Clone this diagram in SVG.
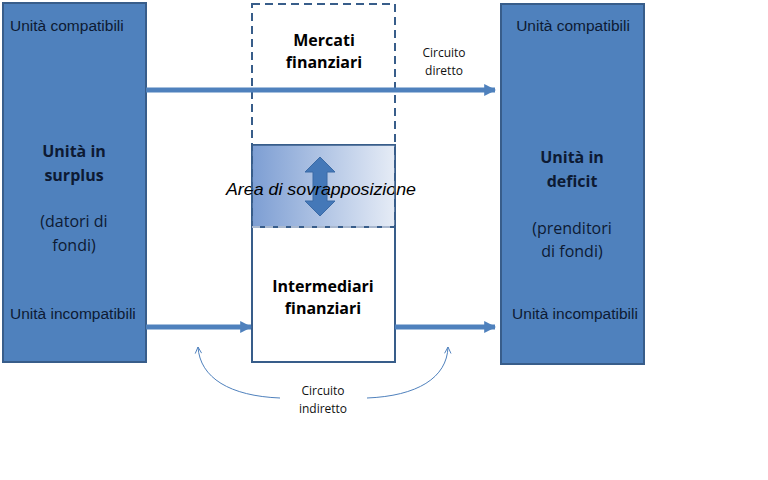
<svg xmlns="http://www.w3.org/2000/svg" width="768" height="480" viewBox="0 0 768 480">
<defs>
<linearGradient id="g" x1="0" y1="0" x2="1" y2="0">
<stop offset="0" stop-color="#7D9ED3"/>
<stop offset="1" stop-color="#E6ECF6"/>
</linearGradient>
<marker id="ah" viewBox="0 0 10 10" refX="9" refY="5" markerWidth="2.4" markerHeight="2.8" orient="auto" markerUnits="strokeWidth">
<path d="M0,0 L10,5 L0,10 Z" fill="#4F81BD"/>
</marker>
<marker id="oh" viewBox="0 0 10 10" refX="9" refY="5" markerWidth="8" markerHeight="8" orient="auto" markerUnits="userSpaceOnUse">
<path d="M1,1 L9,5 L1,9" fill="none" stroke="#4F81BD" stroke-width="1.2"/>
</marker>
</defs>
<style>
.big{fill:#4F81BD;stroke:#385D8A;stroke-width:2}
.t{font-family:"Liberation Sans",Arial,sans-serif;font-size:15.5px;fill:#0D1A33}
.c{font-family:"Open Sans","Liberation Sans",sans-serif;fill:#0D1A33;text-anchor:middle}
.b{font-weight:bold;font-size:16px}
.r{font-size:16px}
.s{font-family:"Open Sans","Liberation Sans",sans-serif;font-size:12px;fill:#111;text-anchor:middle}
.h{font-family:"Open Sans","Liberation Sans",sans-serif;font-weight:bold;font-size:16px;fill:#000;text-anchor:middle}
.flow{stroke:#4F81BD;stroke-width:5;fill:none;marker-end:url(#ah)}
.curve{stroke:#4F81BD;stroke-width:1;fill:none;marker-end:url(#oh)}
</style>
<g id="surplus">
<rect class="big" x="3" y="3" width="143" height="359"/>
<text class="t" x="10" y="31">Unità compatibili</text>
<text class="c b" x="74" y="157">Unità in</text>
<text class="c b" x="74" y="181">surplus</text>
<text class="c r" x="74" y="227">(datori di</text>
<text class="c r" x="74" y="251">fondi)</text>
<text class="t" x="10" y="319">Unità incompatibili</text>
</g>
<g id="deficit">
<rect class="big" x="501" y="4" width="143" height="360"/>
<text class="t" x="573" y="31" text-anchor="middle">Unità compatibili</text>
<text class="c b" x="572" y="163">Unità in</text>
<text class="c b" x="572" y="187">deficit</text>
<text class="c r" x="572" y="234">(prenditori</text>
<text class="c r" x="572" y="257">di fondi)</text>
<text class="t" x="575" y="319" text-anchor="middle">Unità incompatibili</text>
</g>
<g id="intermediari">
<rect x="252" y="145" width="143" height="217" fill="#fff" stroke="#385D8A" stroke-width="2"/>
<text class="h" x="323" y="292">Intermediari</text>
<text class="h" x="323" y="314">finanziari</text>
</g>
<g id="sovrapposizione">
<rect x="252" y="145" width="143" height="82" fill="url(#g)" stroke="#385D8A" stroke-width="1.5"/>
<path d="M320,157 L335,172 L327,172 L327,201 L335,201 L320,216 L305,201 L313,201 L313,172 L305,172 Z" fill="#4478B8" stroke="#3A6AA6" stroke-width="1"/>
<text x="321" y="195" text-anchor="middle" font-family="'Liberation Sans',sans-serif" font-style="italic" font-size="17" fill="#000" textLength="190" lengthAdjust="spacingAndGlyphs">Area di sovrapposizione</text>
</g>
<g id="mercati">
<rect x="252" y="4" width="143" height="223" fill="none" stroke="#385D8A" stroke-width="2" stroke-dasharray="8,5"/>
<line x1="252" y1="227" x2="395" y2="227" stroke="#A9B8CF" stroke-width="2" stroke-dasharray="8,5"/>
<text class="h" x="324" y="46">Mercati</text>
<text class="h" x="324" y="68">finanziari</text>
</g>
<g id="connectors">
<line class="flow" x1="146" y1="90" x2="495" y2="90"/>
<line class="flow" x1="146" y1="327" x2="251" y2="327"/>
<line class="flow" x1="395" y1="327" x2="495" y2="327"/>
<path class="curve" d="M280,398 C230,396 200,378 198,347"/>
<path class="curve" d="M367,398 C417,396 447,378 448,347"/>
</g>
<g id="labels">
<text class="s" x="444" y="57">Circuito</text>
<text class="s" x="444" y="75">diretto</text>
<text class="s" x="323" y="395">Circuito</text>
<text class="s" x="323" y="413">indiretto</text>
</g>
</svg>
